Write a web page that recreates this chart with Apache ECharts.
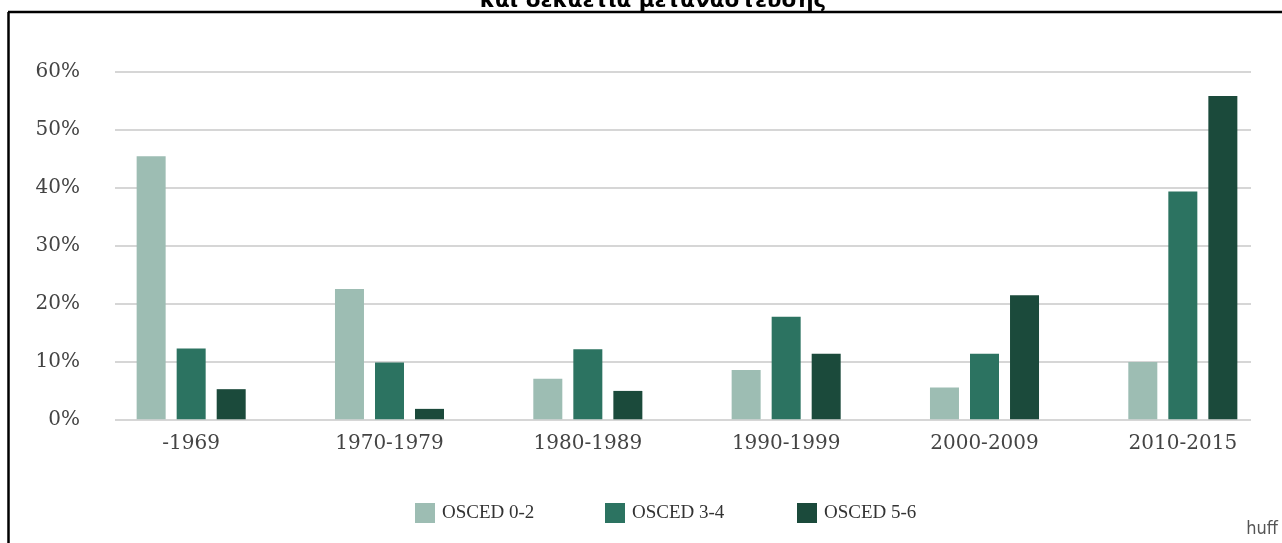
<!DOCTYPE html>
<html>
<head>
<meta charset="utf-8">
<script src="https://cdn.jsdelivr.net/npm/echarts@6/dist/echarts.min.js"></script>
<style>
html,body{margin:0;padding:0;background:#fff;}
#chart{width:1282px;height:543px;}
</style>
</head>
<body>
<div id="chart"></div>
<script>
const categories = ['-1969', '1970-1979', '1980-1989', '1990-1999', '2000-2009', '2010-2015'];
const osced02 = [45.4, 22.5, 7.0, 8.5, 5.5, 9.9];
const osced34 = [12.2, 9.8, 12.1, 17.7, 11.3, 39.3];
const osced56 = [5.2, 1.8, 4.9, 11.3, 21.4, 55.8];
const seriesNames = ['OSCED 0-2', 'OSCED 3-4', 'OSCED 5-6'];
const yTicks = [0, 10, 20, 30, 40, 50, 60];
const titleText = 'και δεκαετία μετανάστευσης';

const colors = ['#9dbdb3', '#2c7361', '#1b4a3b'];
const legendLefts = [410, 600, 792];
const chart = echarts.init(document.getElementById('chart'));
const serif = 'DejaVu Serif';

const option = {
  animation: false,
  backgroundColor: '#fff',
  grid: [
    { left: 115, right: 31, top: 71.7, bottom: 123.7 },
    { left: 92, right: 0, top: 71.7, bottom: 123.7 }
  ],
  legend: seriesNames.map((n, i) => ({
    data: [n],
    left: legendLefts[i],
    top: 498,
    itemWidth: 20,
    itemHeight: 20,
    icon: 'rect',
    textStyle: { fontFamily: 'Liberation Serif', fontSize: 19, color: '#333', padding: [2, 0, 0, 2] }
  })),
  xAxis: [
    { gridIndex: 0, type: 'value', show: false, min: 0, max: 1 },
    {
      gridIndex: 1, type: 'category', data: categories,
      axisLine: { show: false }, axisTick: { show: false },
      axisLabel: { fontFamily: serif, fontSize: 20, color: '#444', margin: 14 }
    }
  ],
  yAxis: [
    {
      gridIndex: 0, type: 'value', min: yTicks[0], max: yTicks[yTicks.length - 1], interval: 10,
      axisLine: { show: false }, axisTick: { show: false },
      axisLabel: { fontFamily: serif, fontSize: 20, color: '#444', margin: 35, formatter: v => v + '%' },
      splitLine: { lineStyle: { color: '#c8c8c8', width: 1.5 } }
    },
    { gridIndex: 1, type: 'value', min: 0, max: 60, show: false, splitLine: { show: false } }
  ],
  series: [osced02, osced34, osced56].map((d, i) => ({
    name: seriesNames[i],
    type: 'bar',
    xAxisIndex: 1,
    yAxisIndex: 1,
    data: d,
    barWidth: 29,
    barGap: '38%',
    itemStyle: { color: colors[i] }
  })),
  graphic: [
    { type: 'line', shape: { x1: 8, y1: 12, x2: 1282, y2: 12 }, style: { stroke: '#000', lineWidth: 2.5 } },
    { type: 'line', shape: { x1: 8.5, y1: 12, x2: 8.5, y2: 543 }, style: { stroke: '#000', lineWidth: 2.5 } },
    { type: 'text', x: 653, y: -10, style: { text: titleText, font: 'bold 21.5px "DejaVu Sans"', fill: '#000', align: 'center' } },
    { type: 'text', right: 4, top: 520, style: { text: 'huff', font: '18px "DejaVu Sans Condensed"', fill: '#555' } }
  ]
};
chart.setOption(option);
</script>
</body>
</html>
